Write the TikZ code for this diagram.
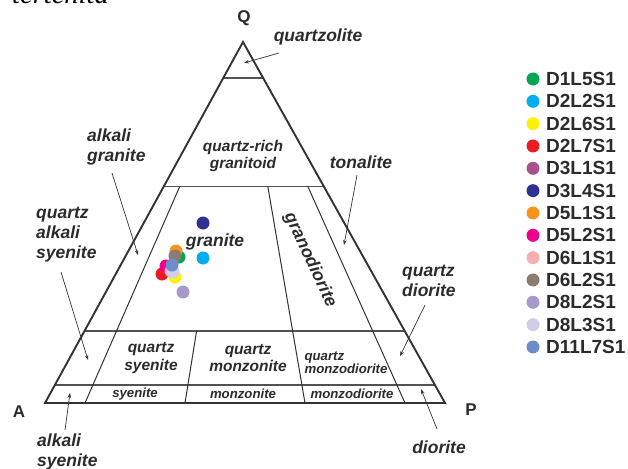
\documentclass[tikz,border=0pt]{standalone}
\usepackage{fontspec}
\setsansfont{Liberation Sans}
\newfontfamily\serifit{Liberation Serif}
\usetikzlibrary{calc,arrows.meta}
\definecolor{txt}{HTML}{2B2B2B}
\definecolor{ln}{HTML}{333333}
\definecolor{cA}{HTML}{00A651}
\definecolor{cB}{HTML}{00AEEF}
\definecolor{cC}{HTML}{FFF200}
\definecolor{cD}{HTML}{ED1C24}
\definecolor{cE}{HTML}{A8518A}
\definecolor{cF}{HTML}{2E3192}
\definecolor{cG}{HTML}{F7941D}
\definecolor{cH}{HTML}{EC008C}
\definecolor{cI}{HTML}{F4B0B0}
\definecolor{cJ}{HTML}{8C7B70}
\definecolor{cK}{HTML}{A59ACA}
\definecolor{cL}{HTML}{D0CDE8}
\definecolor{cM}{HTML}{6D8DC9}
\tikzset{
  lab/.style={font=\sffamily\bfseries\itshape\fontsize{17.5}{20}\selectfont, text=txt, inner sep=0pt, align=center},
  labm/.style={font=\sffamily\bfseries\itshape\fontsize{15.5}{17.5}\selectfont, text=txt, inner sep=0pt, align=center},
  labs/.style={font=\sffamily\bfseries\itshape\fontsize{13.2}{13.5}\selectfont, text=txt, inner sep=0pt, align=center},
  apex/.style={font=\sffamily\bfseries\fontsize{17}{20}\selectfont, text=txt, inner sep=0pt},
  legtxt/.style={font=\sffamily\bfseries\fontsize{19}{20}\selectfont, text=txt, inner sep=0pt, anchor=west},
  dot/.style={circle, inner sep=0pt, minimum size=13pt, draw=none},
  edge/.style={draw=ln, line width=1.9pt, line join=miter},
  inner/.style={draw=ln, line width=1pt},
  hline/.style={draw=ln!85, line width=1.4pt},
  pointer/.style={draw=ln, line width=0.7pt, -{Stealth[length=5pt,width=3.5pt]}}
}
\begin{document}
\begin{tikzpicture}[x=1pt,y=-1pt]
\useasboundingbox (0,0) rectangle (628,468);
\node[font=\serifit\itshape\fontsize{28.5}{30}\selectfont, text=black, inner sep=0pt, anchor=base west] (title) at (12,4) {tertenita};
\coordinate (A) at (45,403);
\coordinate (P) at (445,403);
\coordinate (Q) at (243,42);
% horizontal lines
\foreach \q/\n in {0.9/a,0.6/b,0.2/c,0.05/d}{
  \coordinate (L\n) at ($(A)!\q!(Q)$);
  \coordinate (R\n) at ($(P)!\q!(Q)$);
  \draw[hline] (L\n) -- (R\n);
}
% radial lines
\coordinate (r1t) at ($(A)!0.1!(P)!0.6!(Q)$);
\coordinate (r1b) at ($(A)!0.1!(P)$);
\coordinate (r2t) at ($(A)!0.35!(P)!0.2!(Q)$);
\coordinate (r2b) at ($(A)!0.35!(P)$);
\coordinate (r3t) at ($(A)!0.65!(P)!0.6!(Q)$);
\coordinate (r3b) at ($(A)!0.65!(P)$);
\coordinate (r4t) at ($(A)!0.9!(P)!0.6!(Q)$);
\coordinate (r4b) at ($(A)!0.9!(P)$);
\draw[inner] (r1t) -- (r1b);
\draw[inner] (r2t) -- (r2b);
\draw[inner] (r3t) -- (r3b);
\draw[inner] (r4t) -- (r4b);
% triangle
\draw[edge] (A) -- (P) -- (Q) -- cycle;
% apex labels
\node[apex] (lQ) at (244,18) {Q};
\node[apex] (lA) at (19,412) {A};
\node[apex] (lP) at (471,410) {P};
% field labels
\node[labm] (fqrg) at (243,156) {quartz-rich\\granitoid};
\node[lab] (fgr) at (215,242) {granite};
\node[lab, rotate=-65] (fgd) at (310,260) {granodiorite};
\node[labm] (fqs) at (151,358) {quartz\\syenite};
\node[labm] (fqm) at (248,358) {quartz\\monzonite};
\node[labs, align=left] (fqmd) at (346,363) {quartz\\monzodiorite};
\node[labs] (fs) at (135,394) {syenite};
\node[labs] (fm) at (243,394) {monzonite};
\node[labs] (fmd) at (352,394) {monzodiorite};
% outside labels
\node[lab] (oqz) at (318,37) {quartzolite};
\node[lab, align=left, anchor=west] (oag) at (87,147) {alkali\\granite};
\node[lab, align=left, anchor=west] (oqas) at (36,235) {quartz\\alkali\\syenite};
\node[lab, align=left, anchor=west] (oas) at (37,452) {alkali\\syenite};
\node[lab] (oton) at (361,162) {tonalite};
\node[lab, align=left, anchor=west] (oqd) at (402,281) {quartz\\diorite};
\node[lab] (odi) at (439,447) {diorite};
% pointer coordinates
\coordinate (p1s) at (279,53);  \coordinate (p1e) at (244,63);
\coordinate (p2s) at (112,173); \coordinate (p2e) at (138,255);
\coordinate (p3s) at (61,272);  \coordinate (p3e) at (88,360);
\coordinate (p4s) at (65,430);  \coordinate (p4e) at (70,393);
\coordinate (p5s) at (357,175); \coordinate (p5e) at (344,245);
\coordinate (p6s) at (425,305); \coordinate (p6e) at (400,356);
\coordinate (p7s) at (437,429); \coordinate (p7e) at (421,389);
\foreach \k in {1,...,7}{\draw[pointer] (p\k s) -- (p\k e);}
% data points
\node[dot, fill=cA] (dA) at (179,257) {};
\node[dot, fill=cB] (dB) at (203,258) {};
\node[dot, fill=cC] (dC) at (175,277) {};
\node[dot, fill=cD] (dD) at (162,274) {};
\node[dot, fill=cE] (dE) at (168,268) {};
\node[dot, fill=cF] (dF) at (203,223) {};
\node[dot, fill=cG] (dG) at (176,251) {};
\node[dot, fill=cH] (dH) at (166,266) {};
\node[dot, fill=cI] (dI) at (171,271) {};
\node[dot, fill=cL] (dL) at (173,272) {};
\node[dot, fill=cJ] (dJ) at (175,256) {};
\node[dot, fill=cK] (dK) at (183,292) {};
\node[dot, fill=cM] (dM) at (172,265) {};
% legend
\foreach \nm/\col [count=\i from 0] in {D1L5S1/cA,D2L2S1/cB,D2L6S1/cC,D2L7S1/cD,D3L1S1/cE,D3L4S1/cF,D5L1S1/cG,D5L2S1/cH,D6L1S1/cI,D6L2S1/cJ,D8L2S1/cK,D8L3S1/cL,D11L7S1/cM}{
  \node[dot, fill=\col] (k\nm) at (533,{79+22.33*\i}) {};
  \node[legtxt] (t\nm) at (546,{79+22.33*\i}) {\nm};
}
\end{tikzpicture}
\end{document}
